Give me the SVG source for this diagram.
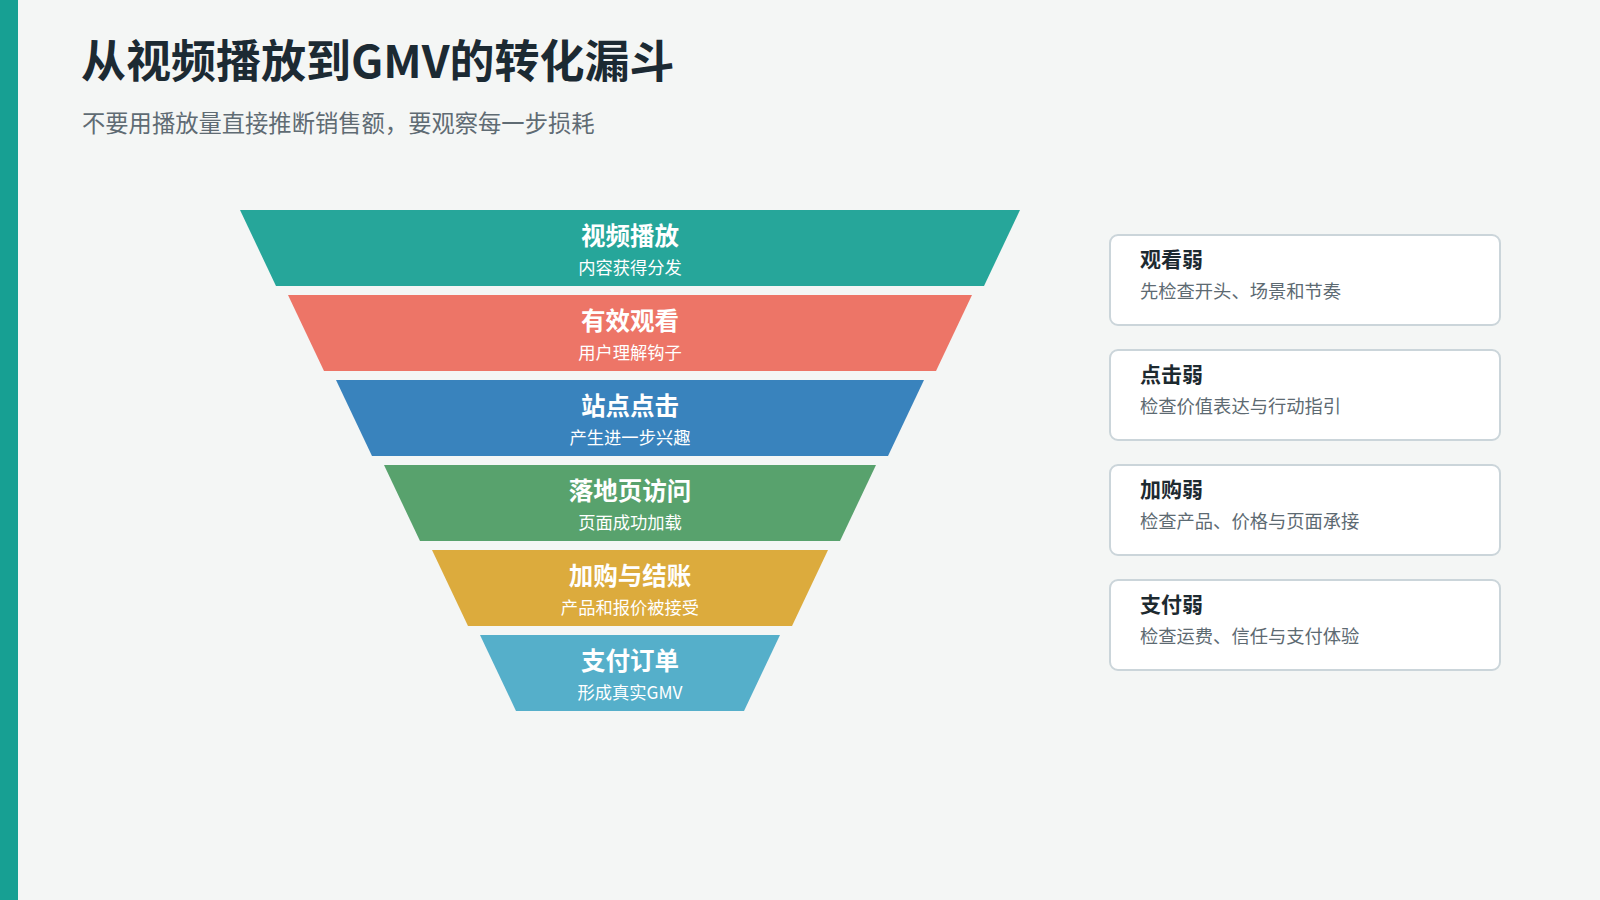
<svg xmlns="http://www.w3.org/2000/svg" width="1600" height="900" viewBox="0 0 1600 900">
<style>
text{font-family:"Noto Sans CJK SC","Noto Sans",sans-serif}
.h1{font-size:45px;font-weight:700;fill:#1c2a33}
.h2{font-size:23.3px;fill:#5f6b73}
.ft{font-size:24.5px;font-weight:700;fill:#ffffff;text-anchor:middle}
.fs{font-size:17.3px;fill:#ffffff;text-anchor:middle}
.card{fill:#ffffff;stroke:#cbd5da;stroke-width:2}
.ct{font-size:21px;font-weight:700;fill:#1d2a30}
.cs{font-size:18.3px;fill:#5d6a72}
</style>
<rect x="0" y="0" width="1600" height="900" fill="#f4f6f5"/>
<rect x="0" y="0" width="18" height="900" fill="#17a093"/>
<text class="h1" x="81" y="78">从视频播放到GMV的转化漏斗</text>
<text class="h2" x="82" y="132">不要用播放量直接推断销售额，要观察每一步损耗</text>
<g id="funnel-1"><polygon points="240,210 1020,210 984,286 276,286" fill="#26a69a"/><text class="ft" x="630" y="245">视频播放</text><text class="fs" x="630" y="274">内容获得分发</text></g>
<g id="funnel-2"><polygon points="288,295 972,295 936,371 324,371" fill="#ed7567"/><text class="ft" x="630" y="330">有效观看</text><text class="fs" x="630" y="359">用户理解钩子</text></g>
<g id="funnel-3"><polygon points="336,380 924,380 888,456 372,456" fill="#3983bd"/><text class="ft" x="630" y="415">站点点击</text><text class="fs" x="630" y="444">产生进一步兴趣</text></g>
<g id="funnel-4"><polygon points="384,465 876,465 840,541 420,541" fill="#58a26d"/><text class="ft" x="630" y="500">落地页访问</text><text class="fs" x="630" y="529">页面成功加载</text></g>
<g id="funnel-5"><polygon points="432,550 828,550 792,626 468,626" fill="#dcab3d"/><text class="ft" x="630" y="585">加购与结账</text><text class="fs" x="630" y="614">产品和报价被接受</text></g>
<g id="funnel-6"><polygon points="480,635 780,635 744,711 516,711" fill="#55afca"/><text class="ft" x="630" y="670">支付订单</text><text class="fs" x="630" y="699">形成真实GMV</text></g>
<g id="card-1"><rect class="card" x="1110" y="235" width="390" height="90" rx="8"/><text class="ct" x="1140" y="267">观看弱</text><text class="cs" x="1140" y="298">先检查开头、场景和节奏</text></g>
<g id="card-2"><rect class="card" x="1110" y="350" width="390" height="90" rx="8"/><text class="ct" x="1140" y="382">点击弱</text><text class="cs" x="1140" y="413">检查价值表达与行动指引</text></g>
<g id="card-3"><rect class="card" x="1110" y="465" width="390" height="90" rx="8"/><text class="ct" x="1140" y="497">加购弱</text><text class="cs" x="1140" y="528">检查产品、价格与页面承接</text></g>
<g id="card-4"><rect class="card" x="1110" y="580" width="390" height="90" rx="8"/><text class="ct" x="1140" y="612">支付弱</text><text class="cs" x="1140" y="643">检查运费、信任与支付体验</text></g>
<g id="connectors"></g>
</svg>
